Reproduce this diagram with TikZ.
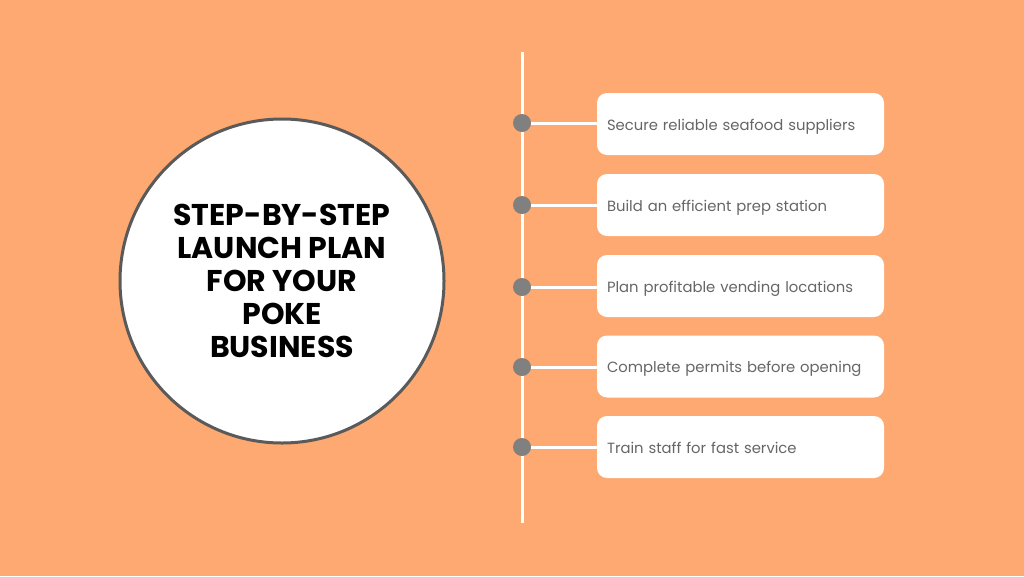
\documentclass[tikz,border=0pt]{standalone}
\usepackage{fontspec}
\setmainfont{Poppins}
\usepackage{xcolor}
\usetikzlibrary{positioning}
\definecolor{bgorange}{HTML}{FDA971}
\definecolor{ringgray}{HTML}{5A5A5A}
\definecolor{dotgray}{HTML}{808080}
\definecolor{textgray}{HTML}{666666}

\begin{document}
\begin{tikzpicture}[
  x=1pt, y=-1pt,
  title/.style={circle, draw=ringgray, line width=3pt, fill=white, minimum size=324pt, align=center, font=\fontsize{30}{33}\selectfont\bfseries},
  dot/.style={circle, fill=dotgray, minimum size=18pt, inner sep=0pt},
  item/.style={fill=white, rounded corners=10pt, minimum height=62pt, minimum width=287pt, text width=267pt, inner xsep=10pt, text height=12pt, text depth=0pt, align=left, text=textgray, font=\fontsize{14.8}{17}\selectfont},
  link/.style={draw=white, line width=3pt}
]
\fill[bgorange] (0,0) rectangle (1024,576);
\useasboundingbox (0,0) rectangle (1024,576);

\node[title] (plan) at (282,281) {STEP-BY-STEP\\LAUNCH PLAN\\FOR YOUR\\POKE\\BUSINESS};

\coordinate (top) at (522,52);
\coordinate (bottom) at (522,523);
\draw[link] (top) -- (bottom);

\node[item] (suppliers) at (740.5,124) {Secure reliable seafood suppliers};
\node[item] (prep) at (740.5,205) {Build an efficient prep station};
\node[item] (locations) at (740.5,286) {Plan profitable vending locations};
\node[item] (permits) at (740.5,366.5) {Complete permits before opening};
\node[item] (staff) at (740.5,447) {Train staff for fast service};

\node[dot] (d1) at (522,123) {};
\node[dot] (d2) at (522,205) {};
\node[dot] (d3) at (522,287) {};
\node[dot] (d4) at (522,367) {};
\node[dot] (d5) at (522,447) {};

\draw[link] (d1.east) -- (d1.east -| suppliers.west);
\draw[link] (d2.east) -- (d2.east -| prep.west);
\draw[link] (d3.east) -- (d3.east -| locations.west);
\draw[link] (d4.east) -- (d4.east -| permits.west);
\draw[link] (d5.east) -- (d5.east -| staff.west);
\end{tikzpicture}
\end{document}
